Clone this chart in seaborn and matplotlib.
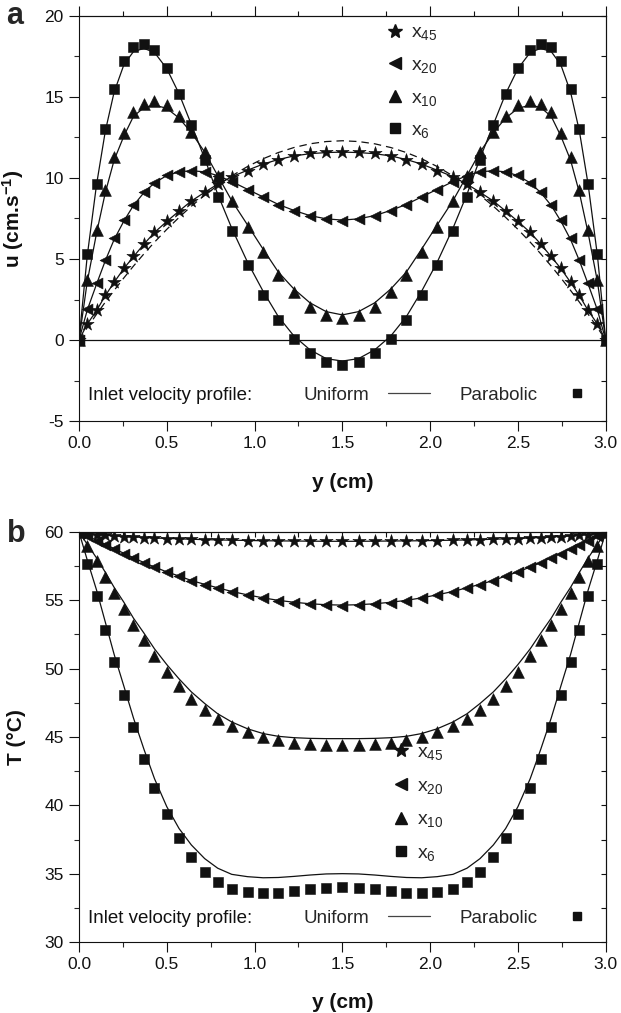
import matplotlib
matplotlib.use("Agg")
import matplotlib.pyplot as plt
from matplotlib.lines import Line2D
from matplotlib.ticker import MultipleLocator, NullFormatter
import seaborn as sns

# ---------------- data ----------------
Y_POS = [0.0, 0.047, 0.10, 0.15, 0.20, 0.256, 0.31, 0.37, 0.43, 0.50, 0.57, 0.64, 0.716, 0.79, 0.87,
         0.96, 1.049, 1.135, 1.224, 1.315, 1.408, 1.50, 1.592, 1.685, 1.776, 1.865, 1.951, 2.04,
         2.13, 2.21, 2.284, 2.36, 2.43, 2.50, 2.57, 2.63, 2.69, 2.744, 2.80, 2.85, 2.90, 2.953, 3.0]

# panel a: velocity u (cm/s); markers = parabolic inlet, lines = uniform inlet
U_X6_PARA = [0, 5.3, 9.6, 13.0, 15.5, 17.2, 18.1, 18.3, 17.9, 16.8, 15.2, 13.3, 11.1, 8.85, 6.7, 4.6, 2.8,
             1.25, 0.05, -0.8, -1.35, -1.55, -1.35, -0.8, 0.05, 1.25, 2.8, 4.6, 6.7, 8.85, 11.1, 13.3,
             15.2, 16.8, 17.9, 18.3, 18.1, 17.2, 15.5, 13.0, 9.6, 5.3, 0]
U_X6_UNIF = [0, 5.2, 9.6, 12.9, 15.3, 17.0, 17.8, 18.0, 17.75, 16.75, 15.2, 13.3, 11.2, 9.0, 6.9, 4.8, 3.0,
             1.45, 0.25, -0.6, -1.15, -1.3, -1.15, -0.6, 0.25, 1.45, 3.0, 4.8, 6.9, 9.0, 11.2, 13.3,
             15.2, 16.75, 17.75, 18.0, 17.8, 17.0, 15.3, 12.9, 9.6, 5.2, 0]
U_X10_PARA = [0, 3.7, 6.8, 9.25, 11.3, 12.8, 14.05, 14.55, 14.75, 14.5, 13.8, 12.85, 11.6, 10.1, 8.55, 7.0,
              5.45, 4.0, 2.95, 2.05, 1.55, 1.35, 1.55, 2.05, 2.95, 4.0, 5.45, 7.0, 8.55, 10.1, 11.6,
              12.85, 13.8, 14.5, 14.75, 14.55, 14.05, 12.8, 11.3, 9.25, 6.8, 3.7, 0]
U_X10_UNIF = [0, 3.6, 6.6, 9.1, 11.1, 12.6, 13.8, 14.35, 14.5, 14.3, 13.7, 12.8, 11.6, 10.15, 8.6, 7.1,
              5.6, 4.2, 3.15, 2.3, 1.75, 1.55, 1.75, 2.3, 3.15, 4.2, 5.6, 7.1, 8.6, 10.15, 11.6, 12.8,
              13.7, 14.3, 14.5, 14.35, 13.8, 12.6, 11.1, 9.1, 6.6, 3.6, 0]
U_X20_PARA = [0, 1.9, 3.52, 4.96, 6.29, 7.42, 8.34, 9.12, 9.71, 10.18, 10.39, 10.45, 10.39, 10.14, 9.75,
              9.26, 8.8, 8.33, 7.98, 7.65, 7.45, 7.37, 7.45, 7.65, 7.98, 8.33, 8.8, 9.26, 9.75, 10.14,
              10.39, 10.45, 10.39, 10.18, 9.71, 9.12, 8.34, 7.42, 6.29, 4.96, 3.52, 1.9, 0]
U_X20_UNIF = [0, 1.85, 3.45, 4.9, 6.2, 7.35, 8.3, 9.1, 9.7, 10.15, 10.38, 10.45, 10.38, 10.15, 9.78, 9.3,
              8.83, 8.37, 8.0, 7.68, 7.48, 7.4, 7.48, 7.68, 8.0, 8.37, 8.83, 9.3, 9.78, 10.15, 10.38,
              10.45, 10.38, 10.15, 9.7, 9.1, 8.3, 7.35, 6.2, 4.9, 3.45, 1.85, 0]
U_X45_PARA = [0, 1.0, 1.84, 2.77, 3.59, 4.45, 5.16, 5.94, 6.66, 7.34, 7.97, 8.59, 9.12, 9.6, 10.05, 10.45,
              10.85, 11.13, 11.36, 11.52, 11.58, 11.62, 11.58, 11.52, 11.36, 11.13, 10.85, 10.45, 10.05,
              9.6, 9.12, 8.59, 7.97, 7.34, 6.66, 5.94, 5.16, 4.45, 3.59, 2.77, 1.84, 1.0, 0]
U_X45_UNIF = [0, 0.98, 1.82, 2.74, 3.56, 4.42, 5.14, 5.92, 6.64, 7.32, 7.96, 8.58, 9.12, 9.62, 10.08,
              10.48, 10.86, 11.14, 11.36, 11.5, 11.57, 11.6, 11.57, 11.5, 11.36, 11.14, 10.86, 10.48,
              10.08, 9.62, 9.12, 8.58, 7.96, 7.32, 6.64, 5.92, 5.14, 4.42, 3.56, 2.74, 1.82, 0.98, 0]
U_DEVELOPED = [0, 0.76, 1.59, 2.34, 3.06, 3.84, 4.56, 5.32, 6.04, 6.83, 7.57, 8.26, 8.94, 9.54, 10.13,
               10.71, 11.19, 11.57, 11.88, 12.11, 12.25, 12.3, 12.25, 12.11, 11.88, 11.57, 11.19, 10.71,
               10.13, 9.54, 8.94, 8.26, 7.57, 6.83, 6.04, 5.32, 4.56, 3.84, 3.06, 2.34, 1.59, 0.76, 0]

# panel b: temperature T (degC)
T_X6_PARA = [60, 57.66, 55.29, 52.85, 50.46, 48.05, 45.7, 43.39, 41.27, 39.33, 37.62, 36.23, 35.14, 34.38,
             33.9, 33.65, 33.6, 33.6, 33.72, 33.85, 33.97, 34.02, 33.97, 33.85, 33.72, 33.6, 33.6, 33.65,
             33.9, 34.38, 35.14, 36.23, 37.62, 39.33, 41.27, 43.39, 45.7, 48.05, 50.46, 52.85, 55.29,
             57.66, 60]
T_X6_UNIF = [60, 57.95, 55.75, 53.4, 51.05, 48.7, 46.4, 44.1, 41.95, 39.9, 38.3, 37.1, 36.1, 35.4, 34.95,
             34.78, 34.7, 34.72, 34.8, 34.9, 34.98, 35.0, 34.98, 34.9, 34.8, 34.72, 34.7, 34.78, 34.95,
             35.4, 36.1, 37.1, 38.3, 39.9, 41.95, 44.1, 46.4, 48.7, 51.05, 53.4, 55.75, 57.95, 60]
T_X10_PARA = [60, 58.95, 57.85, 56.7, 55.54, 54.4, 53.2, 52.07, 50.9, 49.73, 48.7, 47.78, 47.0, 46.3, 45.8,
              45.34, 45.0, 44.76, 44.56, 44.49, 44.44, 44.44, 44.44, 44.49, 44.56, 44.76, 45.0, 45.34,
              45.8, 46.3, 47.0, 47.78, 48.7, 49.73, 50.9, 52.07, 53.2, 54.4, 55.54, 56.7, 57.85, 58.95, 60]
T_X10_UNIF = [60, 59.1, 58.1, 57.05, 55.95, 54.85, 53.7, 52.6, 51.45, 50.3, 49.25, 48.3, 47.45, 46.7, 46.1,
              45.6, 45.25, 45.05, 44.95, 44.9, 44.88, 44.88, 44.88, 44.9, 44.95, 45.05, 45.25, 45.6,
              46.1, 46.7, 47.45, 48.3, 49.25, 50.3, 51.45, 52.6, 53.7, 54.85, 55.95, 57.05, 58.1, 59.1, 60]
T_X20_PARA = [60, 59.68, 59.37, 59.07, 58.76, 58.41, 58.1, 57.73, 57.42, 57.05, 56.76, 56.42, 56.15, 55.9,
              55.62, 55.38, 55.15, 54.98, 54.83, 54.72, 54.64, 54.6, 54.64, 54.72, 54.83, 54.98, 55.15,
              55.38, 55.62, 55.9, 56.15, 56.42, 56.76, 57.05, 57.42, 57.73, 58.1, 58.41, 58.76, 59.07,
              59.37, 59.68, 60]
T_X20_UNIF = [60, 59.7, 59.4, 59.1, 58.78, 58.44, 58.12, 57.76, 57.44, 57.08, 56.78, 56.45, 56.17, 55.92,
              55.65, 55.4, 55.18, 55.0, 54.86, 54.75, 54.68, 54.65, 54.68, 54.75, 54.86, 55.0, 55.18,
              55.4, 55.65, 55.92, 56.17, 56.45, 56.78, 57.08, 57.44, 57.76, 58.12, 58.44, 58.78, 59.1,
              59.4, 59.7, 60]
T_X45_PARA = [60, 59.88, 59.8, 59.75, 59.71, 59.67, 59.63, 59.59, 59.55, 59.52, 59.49, 59.46, 59.43, 59.41,
              59.39, 59.37, 59.35, 59.34, 59.33, 59.32, 59.31, 59.31, 59.31, 59.32, 59.33, 59.34, 59.35,
              59.37, 59.39, 59.41, 59.43, 59.46, 59.49, 59.52, 59.55, 59.59, 59.63, 59.67, 59.71, 59.75,
              59.8, 59.88, 60]
T_X45_UNIF = [60, 59.9, 59.82, 59.76, 59.72, 59.68, 59.64, 59.6, 59.56, 59.53, 59.5, 59.47, 59.44, 59.42,
              59.4, 59.38, 59.36, 59.35, 59.34, 59.33, 59.32, 59.32, 59.32, 59.33, 59.34, 59.35, 59.36,
              59.38, 59.4, 59.42, 59.44, 59.47, 59.5, 59.53, 59.56, 59.6, 59.64, 59.68, 59.72, 59.76,
              59.82, 59.9, 60]

SERIES = ["x45", "x20", "x10", "x6"]
SERIES_LABELS = ["x$_{\\mathregular{45}}$", "x$_{\\mathregular{20}}$",
                 "x$_{\\mathregular{10}}$", "x$_{\\mathregular{6}}$"]
X_TICKS = [0.0, 0.5, 1.0, 1.5, 2.0, 2.5, 3.0]
U_TICKS = [-5, 0, 5, 10, 15, 20]
T_TICKS = [30, 35, 40, 45, 50, 55, 60]

# ---------------- style ----------------
sns.set_theme(style="ticks")
FONT = ["Liberation Sans", "DejaVu Sans"]
plt.rcParams["font.family"] = FONT
plt.rcParams["mathtext.fontset"] = "custom"
plt.rcParams["mathtext.rm"] = "Liberation Sans"
plt.rcParams["mathtext.it"] = "Liberation Sans:italic"
plt.rcParams["mathtext.bf"] = "Liberation Sans:bold"
plt.rcParams["axes.linewidth"] = 0.8

MARKERS = {"x45": "*", "x20": "<", "x10": "^", "x6": "s"}
SIZES = {"x45": 100, "x20": 62, "x10": 72, "x6": 50}
MS = {"x45": 10, "x20": 8, "x10": 8.5, "x6": 7}
K = "#111111"

fig = plt.figure(figsize=(6.21, 10.13), dpi=100)
axa = fig.add_axes([79 / 621, 1 - 421 / 1013, 526.7 / 621, 405 / 1013])
axb = fig.add_axes([79 / 621, 1 - 942 / 1013, 526.7 / 621, 410 / 1013])


def draw(ax, para, unif):
    for name in SERIES:
        sns.lineplot(x=Y_POS, y=unif[name], ax=ax, color=K, lw=0.9, estimator=None, sort=False,
                     zorder=3)
        sns.scatterplot(x=Y_POS, y=para[name], ax=ax, marker=MARKERS[name], s=SIZES[name],
                        color=K, edgecolor=K, linewidth=0.4, zorder=2)


def style_axes(ax, yticks, ylim, top_dir):
    ax.set_xlim(0, 3)
    ax.set_ylim(*ylim)
    ax.set_xticks(X_TICKS)
    ax.set_xticklabels([f"{v:.1f}" for v in X_TICKS])
    ax.set_yticks(yticks)
    ax.set_yticklabels([str(v) for v in yticks])
    ax.xaxis.set_minor_locator(MultipleLocator(0.25))
    ax.yaxis.set_minor_locator(MultipleLocator(2.5))
    ax.tick_params(which="major", direction="out", length=7, width=0.8, labelsize=12.5, pad=4,
                   colors="#111111", top=False, right=False)
    ax.tick_params(which="minor", direction="out", length=3.5, width=0.8, top=False, right=False)
    for s in ax.spines.values():
        s.set_visible(True)
        s.set_color("#111111")
        s.set_linewidth(0.8)
    sec_r = ax.secondary_yaxis("right")
    sec_r.yaxis.set_major_locator(MultipleLocator(2.5))
    sec_r.yaxis.set_major_formatter(NullFormatter())
    sec_r.tick_params(which="major", direction="in", length=3.5, width=0.8, colors="#111111")
    sec_r.spines["right"].set_linewidth(0.8)
    sec_t = ax.secondary_xaxis("top")
    sec_t.xaxis.set_major_locator(MultipleLocator(0.5))
    sec_t.xaxis.set_minor_locator(MultipleLocator(0.25))
    sec_t.xaxis.set_major_formatter(NullFormatter())
    if top_dir == "out":
        sec_t.tick_params(which="major", direction="out", length=7, width=0.8, colors="#111111")
        sec_t.tick_params(which="minor", direction="out", length=3.5, width=0.8, colors="#111111")
    else:
        sec_t.tick_params(which="major", direction="in", length=3.5, width=0.8, colors="#111111")
        sec_t.tick_params(which="minor", direction="in", length=3.5, width=0.8, colors="#111111")
    sec_t.spines["top"].set_linewidth(0.8)
    ax.set_xlabel("y (cm)", fontsize=15, fontweight="bold", color="#111111")
    ax.xaxis.set_label_coords(0.5, -0.128)


def legends(ax, series_anchor, profile_y, spacing):
    handles = [Line2D([], [], ls="none", marker=MARKERS[n], color=K, ms=MS[n]) for n in SERIES]
    leg = ax.legend(handles, SERIES_LABELS, loc="upper left", bbox_to_anchor=series_anchor,
                    frameon=False, fontsize=14, handlelength=1.0, handletextpad=0.3,
                    labelspacing=spacing, borderpad=0, borderaxespad=0)
    ax.add_artist(leg)
    ax.text(0.017, profile_y, "Inlet velocity profile:", transform=ax.transAxes, fontsize=13.5,
            va="center", ha="left", color="#111111")
    h2 = [Line2D([], [], color="#444444", lw=0.9), Line2D([], [], ls="none", marker="s", color=K, ms=6)]
    ax.legend(h2, ["Uniform", "Parabolic"], loc="center left", bbox_to_anchor=(0.427, profile_y),
              frameon=False, fontsize=13.5, ncol=2, markerfirst=False, handlelength=2.2,
              handletextpad=1.0, columnspacing=1.6, borderpad=0, borderaxespad=0)


# ---- panel a ----
draw(axa, {"x45": U_X45_PARA, "x20": U_X20_PARA, "x10": U_X10_PARA, "x6": U_X6_PARA},
     {"x45": U_X45_UNIF, "x20": U_X20_UNIF, "x10": U_X10_UNIF, "x6": U_X6_UNIF})
sns.lineplot(x=Y_POS, y=U_DEVELOPED, ax=axa, color=K, lw=0.9, estimator=None, sort=False,
             linestyle=(0, (6, 4)), zorder=1)
axa.axhline(0, color=K, lw=0.9, zorder=1)
style_axes(axa, U_TICKS, (-5, 20), "out")
axa.set_ylabel("u (cm.s$^{\\mathbf{-1}}$)", fontsize=15, fontweight="bold", color="#111111")
axa.yaxis.set_label_coords(-0.1, 0.5)
legends(axa, (0.582, 0.981), 0.064, 0.72)

# ---- panel b ----
draw(axb, {"x45": T_X45_PARA, "x20": T_X20_PARA, "x10": T_X10_PARA, "x6": T_X6_PARA},
     {"x45": T_X45_UNIF, "x20": T_X20_UNIF, "x10": T_X10_UNIF, "x6": T_X6_UNIF})
style_axes(axb, T_TICKS, (30, 60), "in")
axb.set_ylabel("T (°C)", fontsize=15, fontweight="bold", color="#111111")
axb.yaxis.set_label_coords(-0.1, 0.5)
axb.xaxis.set_label_coords(0.5, -0.125)
legends(axb, (0.593, 0.485), 0.0585, 0.78)

fig.text(15 / 621, 1 - 16 / 1013, "a", fontsize=22, fontweight="bold", ha="center", va="center")
fig.text(16 / 621, 1 - 534 / 1013, "b", fontsize=22, fontweight="bold", ha="center", va="center")

fig.savefig("out.png", dpi=100)
